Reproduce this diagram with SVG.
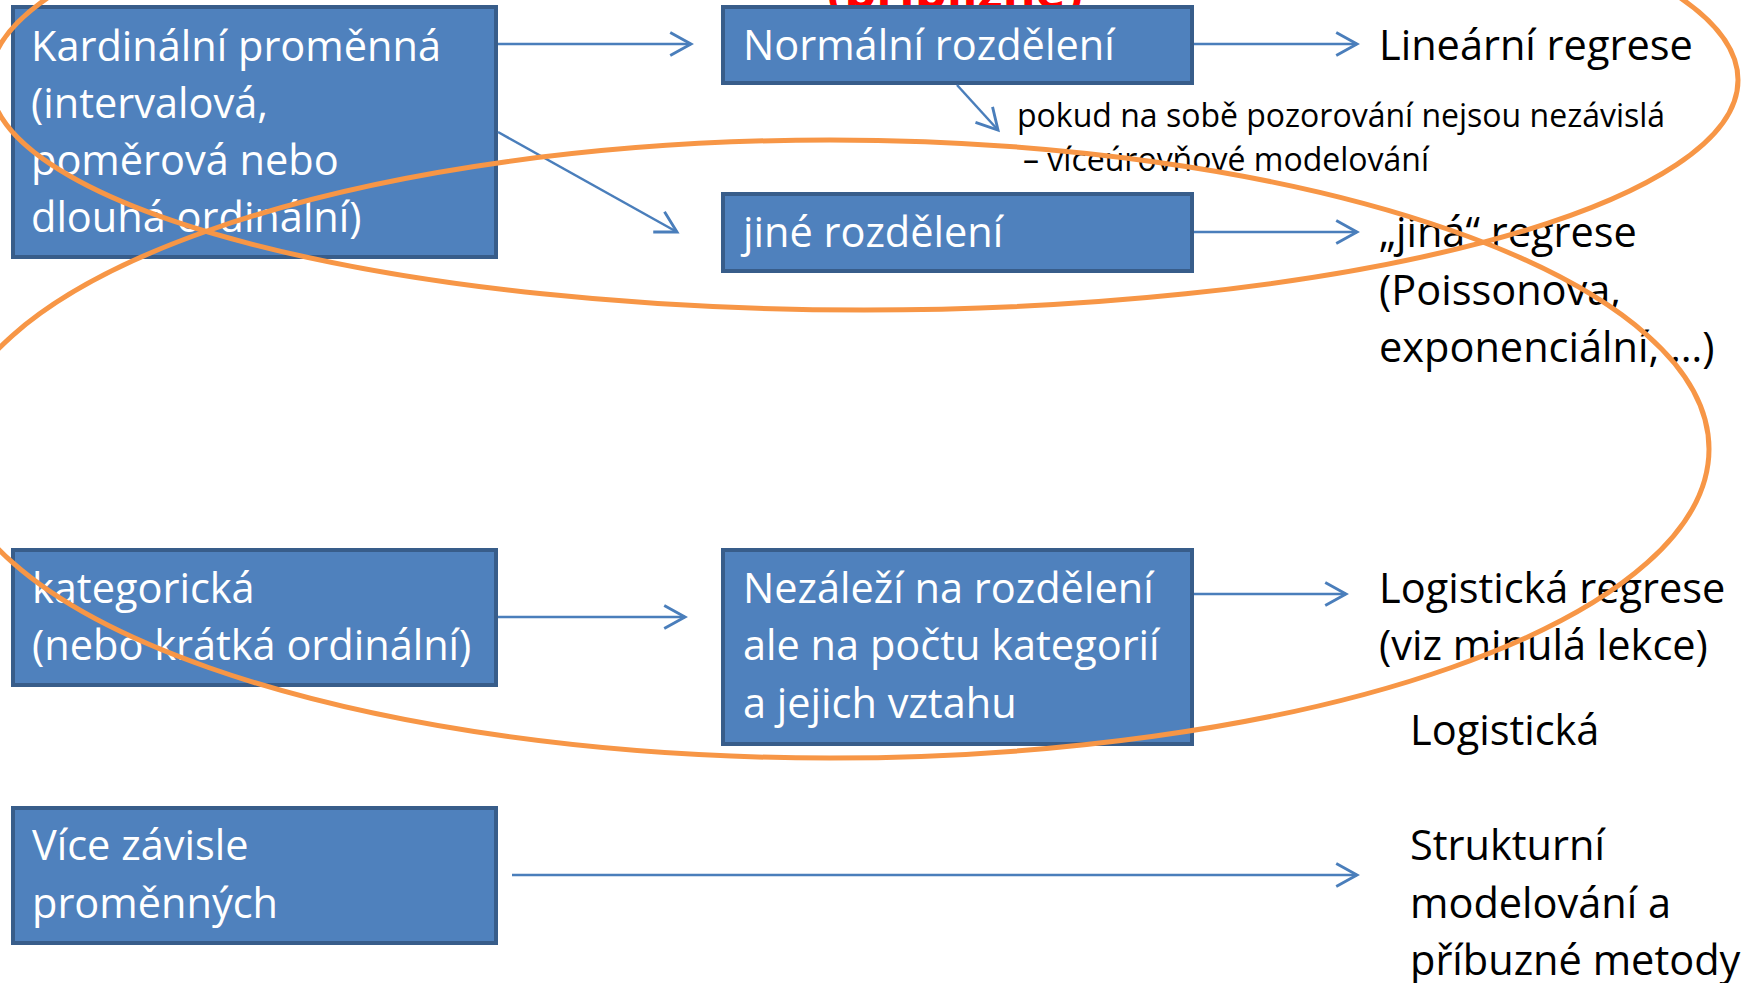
<svg xmlns="http://www.w3.org/2000/svg" width="1760" height="983" viewBox="0 0 1760 983">
<style>
.box{fill:#4F81BD;stroke:#385D8A;stroke-width:4}
.wt{fill:#FFFFFF;font-family:"Open Sans","Noto Sans","Liberation Sans",sans-serif;font-size:41.5px}
.bt{fill:#000000;font-family:"Open Sans","Noto Sans","Liberation Sans",sans-serif;font-size:41.5px}
.st{fill:#000000;font-family:"Open Sans","Noto Sans","Liberation Sans",sans-serif;font-size:32px}
.conn{stroke:#4A7EBB;stroke-width:2.5;fill:none;marker-end:url(#ah)}
.oval{fill:none;stroke:#F79646;stroke-width:5}
</style>
<defs>
<marker id="ah" markerUnits="userSpaceOnUse" markerWidth="30" markerHeight="30" viewBox="-22 -12 26 24" refX="0" refY="0" orient="auto">
<path d="M-18,-10 L0,0 L-18,10" fill="none" stroke="#4A7EBB" stroke-width="2.5"/>
</marker>
</defs>
<rect width="1760" height="983" fill="#FFFFFF"/>
<text x="827" y="8" fill="#FF0000" font-family="Open Sans, Noto Sans, sans-serif" font-weight="bold" font-size="44" textLength="256" lengthAdjust="spacingAndGlyphs">(přibližně)</text>
<g id="node-kardinalni">
<rect class="box" x="13" y="7" width="483" height="250"/>
<text class="wt" x="31" y="61">Kardinální proměnná</text>
<text class="wt" x="31" y="118">(intervalová,</text>
<text class="wt" x="31" y="175">poměrová nebo</text>
<text class="wt" x="31" y="232">dlouhá ordinální)</text>
</g>
<g id="node-normalni">
<rect class="box" x="723" y="7" width="469" height="76"/>
<text class="wt" x="743" y="60">Normální rozdělení</text>
</g>
<g id="node-jine">
<rect class="box" x="723" y="194" width="469" height="77"/>
<text class="wt" x="743" y="247">jiné rozdělení</text>
</g>
<g id="node-kategoricka">
<rect class="box" x="13" y="550" width="483" height="135"/>
<text class="wt" x="32" y="603">kategorická</text>
<text class="wt" x="32" y="660">(nebo krátká ordinální)</text>
</g>
<g id="node-nezalezi">
<rect class="box" x="723" y="550" width="469" height="194"/>
<text class="wt" x="743" y="603">Nezáleží na rozdělení</text>
<text class="wt" x="743" y="660">ale na počtu kategorií</text>
<text class="wt" x="743" y="718">a jejich vztahu</text>
</g>
<g id="node-vice">
<rect class="box" x="13" y="808" width="483" height="135"/>
<text class="wt" x="32" y="860">Více závisle</text>
<text class="wt" x="32" y="918">proměnných</text>
</g>
<g id="node-linearni">
<text class="bt" x="1379" y="60">Lineární regrese</text>
</g>
<g id="node-pokud">
<text class="st" x="1017" y="127">pokud na sobě pozorování nejsou nezávislá</text>
<text class="st" x="1023" y="171">– víceúrovňové modelování</text>
</g>
<g id="node-jina-regrese">
<text class="bt" x="1379" y="247">„jiná“ regrese</text>
<text class="bt" x="1379" y="305">(Poissonova,</text>
<text class="bt" x="1379" y="362">exponenciální, …)</text>
</g>
<g id="node-logisticka-regrese">
<text class="bt" x="1379" y="603">Logistická regrese</text>
<text class="bt" x="1379" y="660">(viz minulá lekce)</text>
</g>
<g id="node-logisticka">
<text class="bt" x="1410" y="745">Logistická</text>
</g>
<g id="node-strukturni">
<text class="bt" x="1410" y="860">Strukturní</text>
<text class="bt" x="1410" y="918">modelování a</text>
<text class="bt" x="1410" y="975">příbuzné metody</text>
</g>
<g id="connectors">
<line class="conn" x1="498" y1="44" x2="691" y2="44"/>
<line class="conn" x1="498" y1="132" x2="677" y2="232"/>
<line class="conn" x1="1194" y1="44" x2="1357" y2="44"/>
<line class="conn" x1="957" y1="85" x2="998" y2="130"/>
<line class="conn" x1="1194" y1="232" x2="1357" y2="232"/>
<line class="conn" x1="498" y1="617" x2="685" y2="617"/>
<line class="conn" x1="1194" y1="594" x2="1346" y2="594"/>
<line class="conn" x1="512" y1="875" x2="1357" y2="875"/>
</g>
<g id="ovals">
<ellipse class="oval" cx="864" cy="80" rx="874" ry="230"/>
<ellipse class="oval" cx="830" cy="449" rx="879" ry="309"/>
</g>
</svg>
